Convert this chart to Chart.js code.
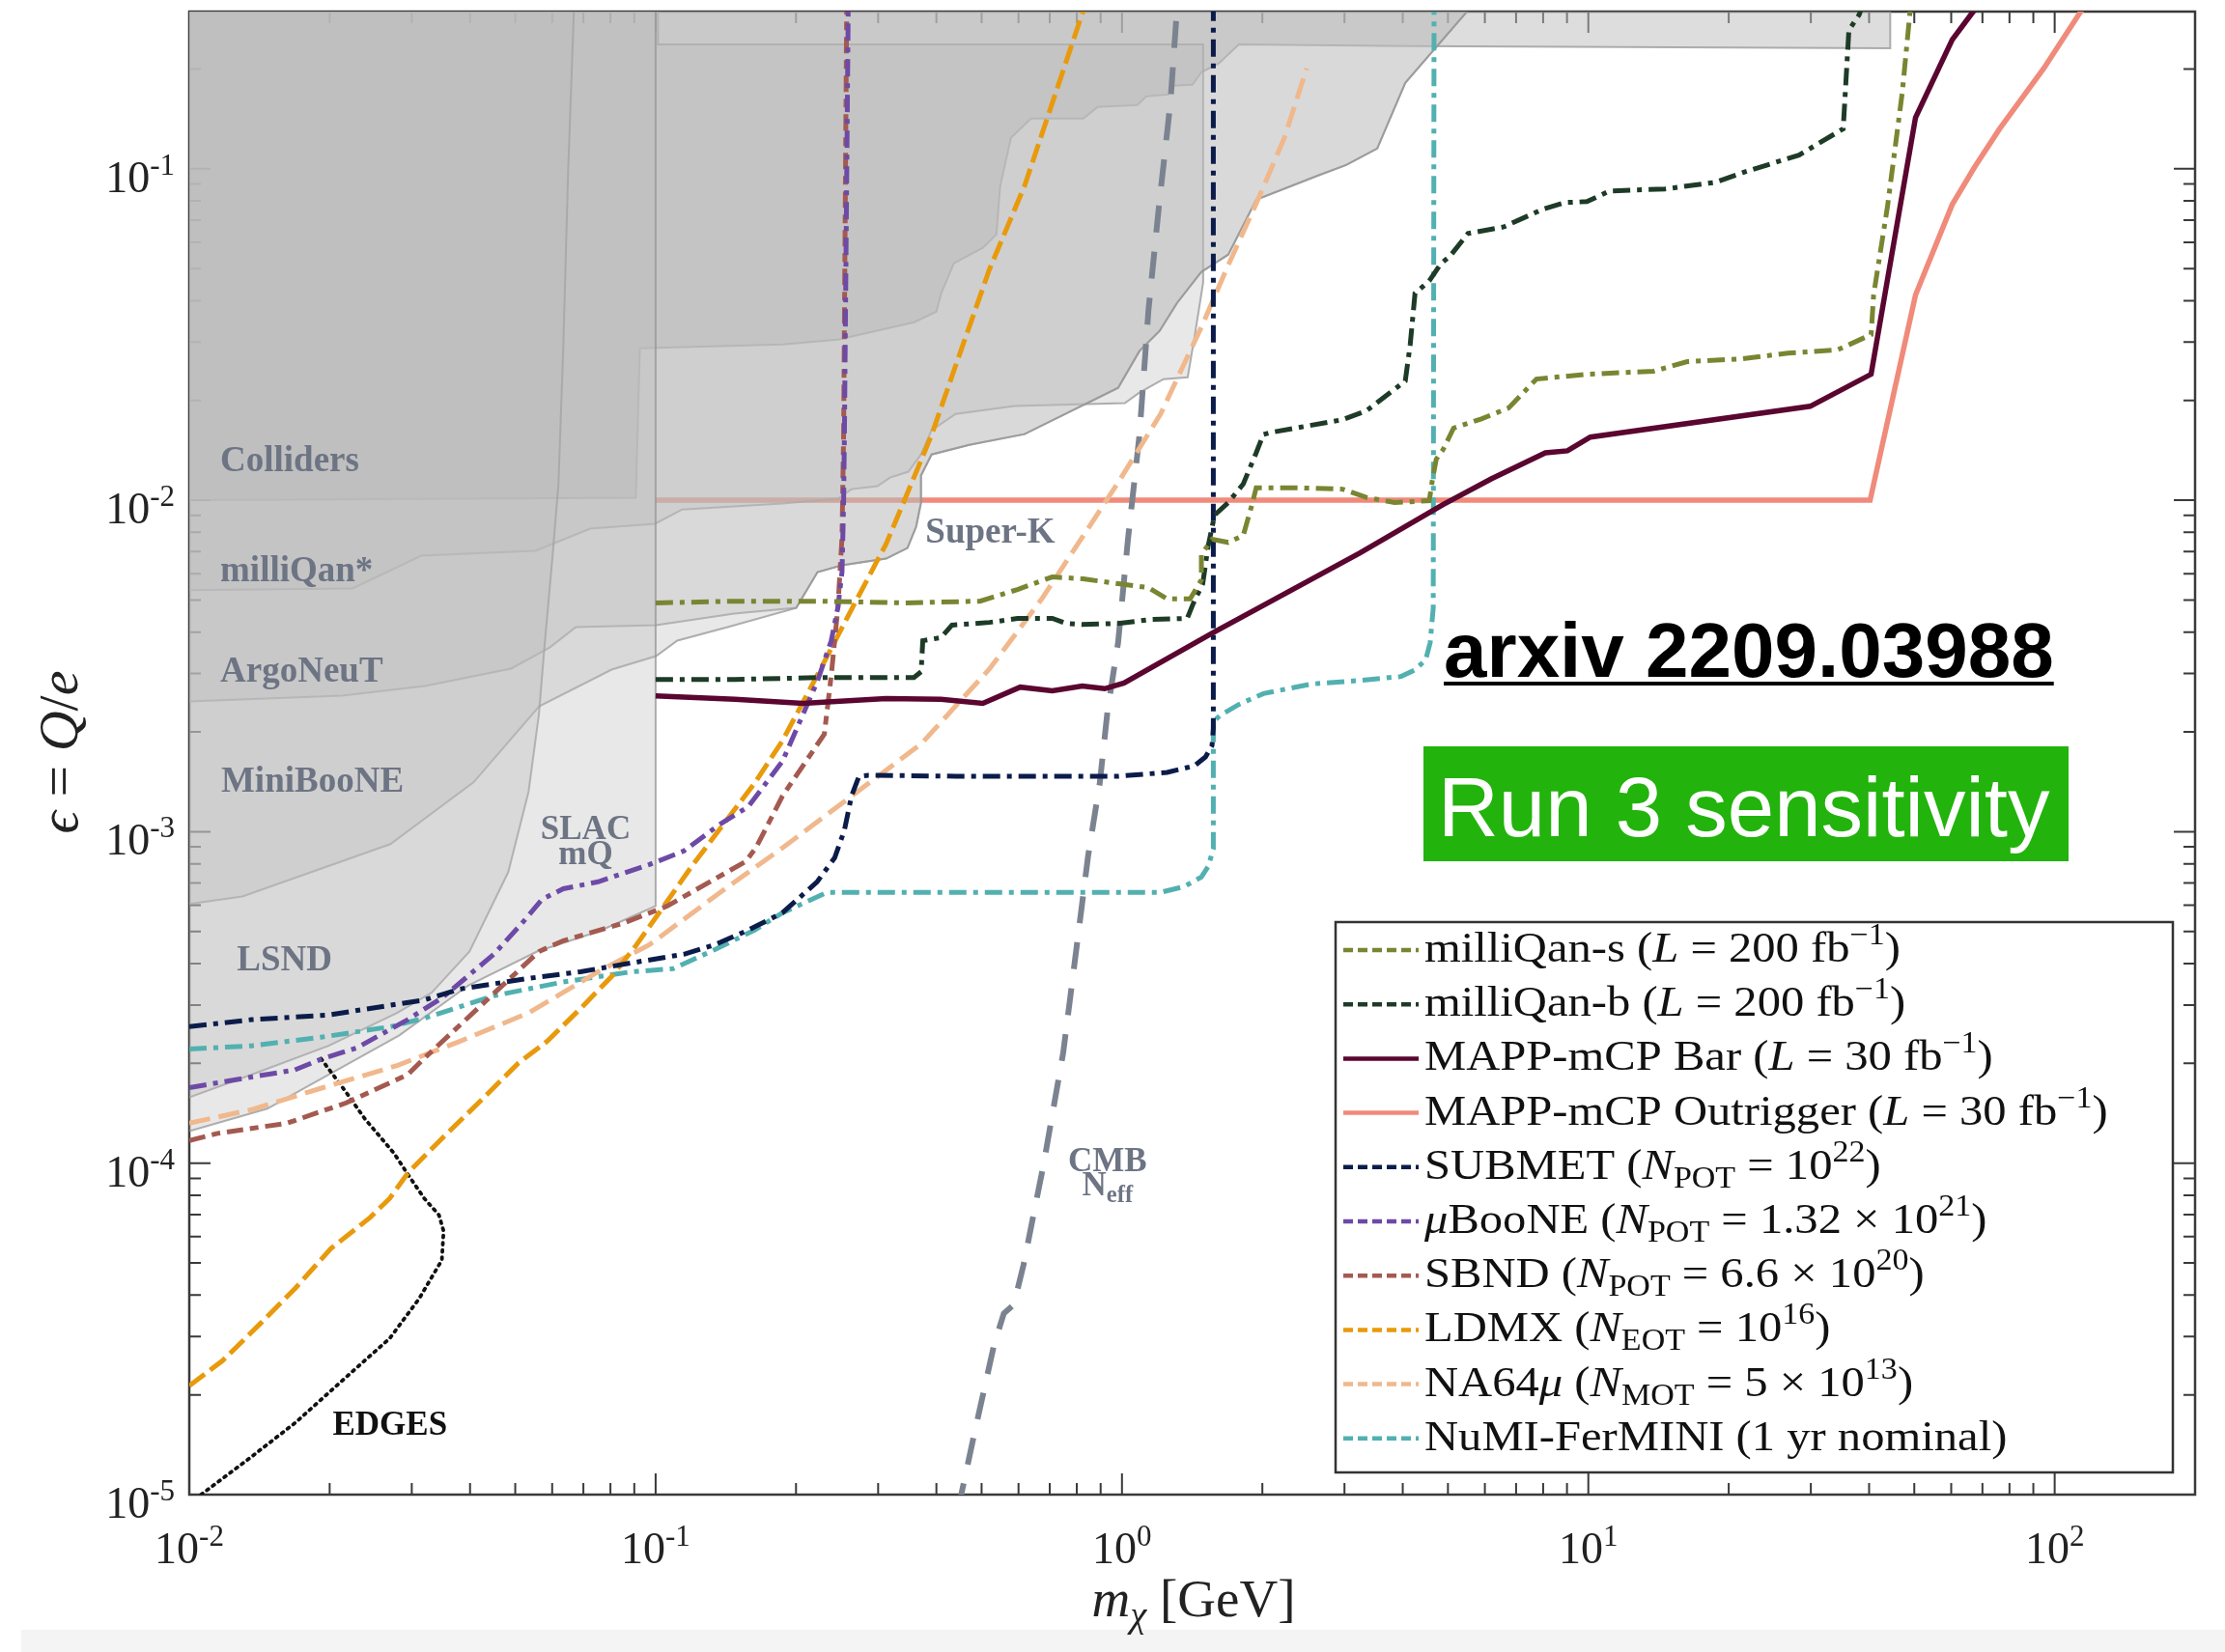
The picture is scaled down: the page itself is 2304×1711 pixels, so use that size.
<!DOCTYPE html>
<html>
<head>
<meta charset="utf-8">
<script src="https://cdn.jsdelivr.net/npm/chart.js@4.4.1/dist/chart.umd.min.js"></script>
<style>
  html, body { margin: 0; padding: 0; background: #fff; }
  canvas { display: block; }
</style>
</head>
<body>
<canvas id="grafik" width="2304" height="1711"></canvas>
<script>
// Axis ranges and ticks
const xMin = 0.01, xMax = 200, yMin = 1e-5, yMax = 0.298;
const xDecades = [0.01, 0.1, 1, 10, 100];
const xExponents = ['-2', '-1', '0', '1', '2'];
const yDecades = [1e-5, 1e-4, 1e-3, 1e-2, 1e-1];
const yExponents = ['-5', '-4', '-3', '-2', '-1'];
const minorSteps = [2, 3, 4, 5, 6, 7, 8, 9];

// Projected sensitivities (m in GeV, epsilon)
const mqsMass = [0.1, 0.148, 0.222, 0.340, 0.496, 0.597, 0.709, 0.826, 0.981, 1.14, 1.25, 1.40, 1.48, 1.48, 1.56, 1.69, 1.82, 1.90, 1.94, 2.38, 2.97, 3.34, 3.84, 4.56, 4.63, 4.72, 4.88, 5.14, 5.90, 6.75, 7.74, 9.93, 13.8, 16.3, 21.4, 26.8, 34.2, 40.4, 40.9, 43.8, 47.1, 48.9, 49.5];
const mqsEps = [4.90e-3, 4.96e-3, 4.96e-3, 4.90e-3, 4.96e-3, 5.38e-3, 5.87e-3, 5.79e-3, 5.60e-3, 5.45e-3, 5.04e-3, 5.04e-3, 5.75e-3, 6.85e-3, 7.62e-3, 7.46e-3, 7.83e-3, 9.70e-3, 0.0109, 0.0109, 0.0108, 0.0102, 9.84e-3, 9.97e-3, 0.0115, 0.0133, 0.0142, 0.0165, 0.0176, 0.0190, 0.0232, 0.0240, 0.0245, 0.0262, 0.0267, 0.0278, 0.0284, 0.0316, 0.0416, 0.0769, 0.169, 0.292, 0.34];

const mqbMass = [0.1, 0.148, 0.230, 0.358, 0.371, 0.374, 0.409, 0.432, 0.520, 0.597, 0.709, 0.759, 0.822, 0.981, 1.16, 1.38, 1.42, 1.49, 1.53, 1.58, 1.69, 1.82, 1.94, 2.01, 2.08, 2.97, 3.34, 4.05, 4.15, 4.25, 4.56, 4.83, 5.04, 5.52, 6.59, 7.98, 8.90, 9.93, 11.1, 14.6, 18.7, 21.4, 28.3, 35.2, 36.2, 38.1, 39.5];
const mqbEps = [2.88e-3, 2.88e-3, 2.92e-3, 2.92e-3, 3.04e-3, 3.77e-3, 3.85e-3, 4.20e-3, 4.28e-3, 4.40e-3, 4.40e-3, 4.25e-3, 4.22e-3, 4.25e-3, 4.37e-3, 4.40e-3, 4.86e-3, 5.60e-3, 7.27e-3, 9.02e-3, 9.84e-3, 0.0112, 0.0139, 0.0158, 0.0160, 0.0175, 0.0186, 0.0229, 0.0295, 0.0421, 0.0459, 0.0518, 0.0543, 0.0638, 0.0668, 0.0755, 0.0791, 0.0796, 0.0857, 0.0869, 0.0910, 0.0973, 0.110, 0.132, 0.262, 0.292, 0.34];

const barMass = [0.1, 0.148, 0.207, 0.312, 0.409, 0.503, 0.605, 0.709, 0.822, 0.918, 1.01, 1.58, 3.24, 4.88, 6.19, 8.09, 9.02, 10.1, 29.9, 40.4, 50.3, 60.3, 66.4, 72];
const barEps = [2.57e-3, 2.51e-3, 2.44e-3, 2.52e-3, 2.51e-3, 2.44e-3, 2.73e-3, 2.66e-3, 2.75e-3, 2.70e-3, 2.81e-3, 4.01e-3, 6.94e-3, 9.70e-3, 0.0116, 0.0139, 0.0141, 0.0155, 0.0192, 0.0240, 0.1426, 0.245, 0.294, 0.34];

const outMass = [0.1, 40.2, 50.3, 60.3, 67.3, 76.2, 94.8, 113, 118];
const outEps = [0.01, 0.01, 0.0416, 0.078, 0.101, 0.132, 0.201, 0.294, 0.32];

const subMass = [0.01, 0.0136, 0.0199, 0.0320, 0.0380, 0.0534, 0.0690, 0.0889, 0.115, 0.134, 0.158, 0.187, 0.222, 0.242, 0.254, 0.263, 0.273, 0.286, 0.440, 0.981, 1.25, 1.43, 1.51, 1.56, 1.57, 1.57];
const subEps = [2.58e-4, 2.71e-4, 2.80e-4, 3.11e-4, 3.35e-4, 3.61e-4, 3.78e-4, 4.02e-4, 4.27e-4, 4.56e-4, 5.05e-4, 5.69e-4, 7.06e-4, 8.34e-4, 1.01e-3, 1.28e-3, 1.47e-3, 1.48e-3, 1.47e-3, 1.47e-3, 1.51e-3, 1.58e-3, 1.68e-3, 1.82e-3, 2.05e-3, 0.4];

const ubMass = [0.01, 0.0136, 0.0168, 0.0192, 0.0229, 0.0294, 0.0349, 0.0450, 0.0516, 0.0571, 0.0634, 0.0753, 0.0970, 0.115, 0.137, 0.158, 0.187, 0.222, 0.238, 0.246, 0.251, 0.253, 0.254, 0.259];
const ubEps = [1.69e-4, 1.82e-4, 1.91e-4, 2.06e-4, 2.23e-4, 2.71e-4, 3.16e-4, 4.27e-4, 5.28e-4, 6.25e-4, 6.73e-4, 7.06e-4, 7.96e-4, 8.75e-4, 1.05e-3, 1.19e-3, 1.63e-3, 2.83e-3, 3.77e-3, 4.76e-3, 6.07e-3, 9.84e-3, 0.0158, 0.34];

const sbMass = [0.01, 0.0115, 0.0162, 0.0217, 0.0294, 0.0320, 0.0562, 0.0634, 0.0847, 0.106, 0.141, 0.156, 0.164, 0.187, 0.230, 0.238, 0.246, 0.251, 0.253, 0.257];
const sbEps = [1.17e-4, 1.23e-4, 1.32e-4, 1.52e-4, 1.85e-4, 2.08e-4, 4.35e-4, 4.69e-4, 5.28e-4, 5.97e-4, 7.50e-4, 8.13e-4, 8.93e-4, 1.28e-3, 1.97e-3, 2.96e-3, 4.76e-3, 7.73e-3, 0.0158, 0.34];

const ldMass = [0.01, 0.0118, 0.0142, 0.0169, 0.0201, 0.0244, 0.0269, 0.0295, 0.0351, 0.0417, 0.0507, 0.0585, 0.0694, 0.0805, 0.0907, 0.100, 0.119, 0.141, 0.163, 0.187, 0.222, 0.263, 0.312, 0.340, 0.391, 0.440, 0.520, 0.618, 0.709, 0.822, 0.86];
const ldEps = [2.13e-5, 2.54e-5, 3.28e-5, 4.20e-5, 5.52e-5, 6.85e-5, 7.83e-5, 9.38e-5, 1.20e-4, 1.52e-4, 2.00e-4, 2.33e-4, 2.95e-4, 3.66e-4, 4.53e-4, 5.50e-4, 7.80e-4, 1.07e-3, 1.40e-3, 1.88e-3, 2.96e-3, 4.68e-3, 7.38e-3, 9.84e-3, 0.0158, 0.0255, 0.0498, 0.0887, 0.158, 0.294, 0.34];

const naMass = [0.01, 0.0136, 0.0199, 0.0279, 0.0380, 0.0534, 0.0753, 0.0970, 0.141, 0.187, 0.263, 0.371, 0.520, 0.673, 0.822, 0.981, 1.21, 1.48, 1.69, 1.94, 2.23, 2.49];
const naEps = [1.32e-4, 1.45e-4, 1.71e-4, 1.97e-4, 2.33e-4, 2.84e-4, 3.78e-4, 4.56e-4, 6.73e-4, 8.93e-4, 1.28e-3, 1.84e-3, 3.10e-3, 5.04e-3, 7.73e-3, 0.0113, 0.0182, 0.0333, 0.0512, 0.0785, 0.124, 0.201];

const numiMass = [0.01, 0.0136, 0.0192, 0.0270, 0.0320, 0.0450, 0.0634, 0.0889, 0.109, 0.134, 0.163, 0.187, 0.233, 0.312, 1.21, 1.36, 1.48, 1.53, 1.57, 1.57, 1.63, 1.78, 2.01, 2.55, 3.24, 3.97, 4.25, 4.48, 4.58, 4.65, 4.67];
const numiEps = [2.21e-4, 2.26e-4, 2.40e-4, 2.58e-4, 2.74e-4, 3.20e-4, 3.52e-4, 3.78e-4, 3.86e-4, 4.41e-4, 5.05e-4, 5.69e-4, 6.56e-4, 6.56e-4, 6.56e-4, 6.83e-4, 7.30e-4, 7.85e-4, 8.87e-4, 2.15e-3, 2.25e-3, 2.42e-3, 2.61e-3, 2.79e-3, 2.86e-3, 2.94e-3, 3.08e-3, 3.30e-3, 3.72e-3, 4.73e-3, 0.4];

const cmbMass = [0.445, 0.482, 0.532, 0.558, 0.586, 0.615, 0.679, 0.748, 0.803, 0.846, 0.896, 0.931, 0.981, 1.03, 1.09, 1.14, 1.20, 1.27, 1.31, 1.32];
const cmbEps = [9.0e-6, 1.52e-5, 2.84e-5, 3.52e-5, 3.74e-5, 4.93e-5, 9.91e-5, 2.15e-4, 4.72e-4, 8.45e-4, 1.40e-3, 2.31e-3, 3.72e-3, 7.62e-3, 0.0157, 0.0376, 0.0769, 0.158, 0.294, 0.34];

const edMass = [0.0103, 0.0132, 0.0169, 0.0216, 0.0269, 0.0311, 0.0348, 0.0351, 0.0343, 0.0319, 0.0295, 0.0275, 0.0238, 0.0216, 0.0191];
const edEps = [9.7e-6, 1.26e-5, 1.65e-5, 2.25e-5, 2.96e-5, 3.90e-5, 5.10e-5, 6.24e-5, 6.98e-5, 7.83e-5, 9.20e-5, 1.07e-4, 1.36e-4, 1.65e-4, 2.08e-4];

// Excluded regions (closed outlines, closed above the plot)
const colMass = [0.01, 0.0907, 0.0925, 0.187, 0.246, 0.3585, 0.400, 0.4096, 0.436, 0.503, 0.538, 0.548, 0.578, 0.638, 0.826, 0.887, 1.079, 1.127, 1.257, 1.288, 1.416, 1.479, 1.611, 1.781, 4.107, 44.4, 44.4, 0.01];
const colEps = [0.0100, 0.01017, 0.02874, 0.02951, 0.03052, 0.03444, 0.03707, 0.0421, 0.05185, 0.05772, 0.06339, 0.08863, 0.124, 0.1417, 0.1417, 0.1536, 0.1556, 0.1653, 0.1675, 0.178, 0.1792, 0.1955, 0.2076, 0.2373, 0.2343, 0.2311, 1, 1];

const mqMass = [0.01, 0.02239, 0.03144, 0.05521, 0.07244, 0.0997, 0.114, 0.1873, 0.246, 0.263, 0.299, 0.3182, 0.3483, 0.3707, 0.3906, 0.440, 0.5888, 1.0144, 1.0897, 1.2278, 1.3833, 1.4303, 1.493, 1.493, 0.1012, 0.1012, 0.01];
const mqEps = [5.35e-3, 5.42e-3, 6.80e-3, 7.04e-3, 8.21e-3, 8.49e-3, 9.38e-3, 9.77e-3, 0.0101, 0.0108, 0.01102, 0.01171, 0.01219, 0.01374, 0.01626, 0.01822, 0.01923, 0.01962, 0.02112, 0.02319, 0.0235, 0.03094, 0.04535, 0.2373, 0.2373, 1, 1];

const anHeadMass = [0.01, 0.02126, 0.03203, 0.04899, 0.05929, 0.06745, 0.1002, 0.1475];
const anHeadEps = [2.47e-3, 2.574e-3, 2.752e-3, 3.105e-3, 3.597e-3, 4.142e-3, 4.198e-3, 4.548e-3];
const mbHeadMass = [0.01, 0.0130, 0.02699, 0.04068, 0.05627, 0.08048, 0.1002, 0.1113, 0.1427];
const mbHeadEps = [6.05e-4, 6.38e-4, 9.17e-4, 1.408e-3, 2.39e-3, 3.084e-3, 3.388e-3, 3.771e-3, 4.142e-3];
const skMass = [0.2002, 0.2224, 0.2506, 0.3121, 0.3467, 0.3619, 0.3707, 0.3707, 0.3906, 0.4705, 0.618, 0.981, 1.0897, 1.2043, 1.3126, 1.479, 1.69, 1.941, 2.634, 3.025, 3.526, 4.05, 5.495, 5.6, 0.01];
const skEps = [4.734e-3, 6.07e-3, 6.36e-3, 6.666e-3, 7.177e-3, 8.318e-3, 9.833e-3, 0.01187, 0.01374, 0.0147, 0.01583, 0.02183, 0.02818, 0.03243, 0.03938, 0.04881, 0.05508, 0.08066, 0.09541, 0.1027, 0.1151, 0.1816, 0.2981, 1, 1];

const slacMass = [0.01, 0.0147, 0.0282, 0.0397, 0.0557, 0.0756, 0.1, 0.1, 0.01];
const slacEps = [1.25e-4, 1.46e-4, 2.43e-4, 3.44e-4, 4.35e-4, 5.01e-4, 5.97e-4, 1, 1];

const lsndMass = [0.01, 0.0136, 0.0199, 0.0279, 0.0331, 0.0399, 0.0483, 0.0534, 0.0562, 0.0577, 0.0602, 0.0619, 0.0634, 0.0649, 0.0668, 0.068, 0.01];
const lsndEps = [1.58e-4, 1.85e-4, 2.26e-4, 2.84e-4, 3.27e-4, 4.35e-4, 7.55e-4, 1.32e-3, 2.26e-3, 3.55e-3, 6.94e-3, 0.0112, 0.0293, 0.0967, 0.30, 1, 1];

// Region names
const regionNames = ['Colliders', 'milliQan*', 'ArgoNeuT', 'MiniBooNE', 'LSND', 'Super-K'];
const regionNameMass = [0.01165, 0.01165, 0.01165, 0.0117, 0.01265, 0.379];
const regionNameEps = [0.01227, 5.71e-3, 2.83e-3, 1.32e-3, 3.81e-4, 7.46e-3];

const SERIF = '"Liberation Serif", "Times New Roman", serif';
const SANS = '"Liberation Sans", Arial, sans-serif';
const REGION_TEXT = '#6d7484';

function pts(xs, ys) {
  return xs.map((x, i) => ({ x, y: ys[i] }));
}

function garis(label, xs, ys, color, dash, width, order, legend) {
  return {
    label, legend,
    data: pts(xs, ys),
    borderColor: color,
    borderWidth: width,
    borderDash: dash,
    pointRadius: 0,
    fill: false,
    tension: 0,
    order
  };
}

function wilayah(label, xs, ys, alpha) {
  return {
    label,
    data: pts(xs, ys),
    borderColor: 'rgba(150,150,150,0.75)',
    borderWidth: 2,
    backgroundColor: 'rgba(188,188,188,' + alpha + ')',
    fill: 'shape',
    pointRadius: 0,
    tension: 0,
    order: 20
  };
}

const dashDot = [18, 7, 5, 7];

const datasets = [
  garis('milliQan-s (L = 200 fb⁻¹)', mqsMass, mqsEps, '#7a8532', dashDot, 5, 1,
    [['milliQan-s (', ''], ['L', 'i'], [' = 200 fb', ''], ['−1', 'sup'], [')', '']]),
  garis('milliQan-b (L = 200 fb⁻¹)', mqbMass, mqbEps, '#1d3b27', dashDot, 5, 2,
    [['milliQan-b (', ''], ['L', 'i'], [' = 200 fb', ''], ['−1', 'sup'], [')', '']]),
  garis('MAPP-mCP Bar (L = 30 fb⁻¹)', barMass, barEps, '#5a0630', [], 5.5, 3,
    [['MAPP-mCP Bar (', ''], ['L', 'i'], [' = 30 fb', ''], ['−1', 'sup'], [')', '']]),
  garis('MAPP-mCP Outrigger (L = 30 fb⁻¹)', outMass, outEps, '#f08a7a', [], 5.5, 30,
    [['MAPP-mCP Outrigger (', ''], ['L', 'i'], [' = 30 fb', ''], ['−1', 'sup'], [')', '']]),
  garis('SUBMET (N_POT = 10²²)', subMass, subEps, '#0b1c4a', dashDot, 5, 4,
    [['SUBMET (', ''], ['N', 'i'], ['POT', 'sub'], [' = 10', ''], ['22', 'sup'], [')', '']]),
  garis('μBooNE (N_POT = 1.32 × 10²¹)', ubMass, ubEps, '#6d4aa6', dashDot, 5, 5,
    [['μ', 'i'], ['BooNE (', ''], ['N', 'i'], ['POT', 'sub'], [' = 1.32 × 10', ''], ['21', 'sup'], [')', '']]),
  garis('SBND (N_POT = 6.6 × 10²⁰)', sbMass, sbEps, '#a45a50', [17, 7, 9, 7], 5, 6,
    [['SBND (', ''], ['N', 'i'], ['POT', 'sub'], [' = 6.6 × 10', ''], ['20', 'sup'], [')', '']]),
  garis('LDMX (N_EOT = 10¹⁶)', ldMass, ldEps, '#e89a0c', [20, 7], 5, 7,
    [['LDMX (', ''], ['N', 'i'], ['EOT', 'sub'], [' = 10', ''], ['16', 'sup'], [')', '']]),
  garis('NA64μ (N_MOT = 5 × 10¹³)', naMass, naEps, '#f0b88c', [22, 9], 5, 8,
    [['NA64', ''], ['μ', 'i'], [' (', ''], ['N', 'i'], ['MOT', 'sub'], [' = 5 × 10', ''], ['13', 'sup'], [')', '']]),
  garis('NuMI-FerMINI (1 yr nominal)', numiMass, numiEps, '#52b0b0', dashDot, 5, 9,
    [['NuMI-FerMINI (1 yr nominal)', '']]),
  garis('CMB Neff', cmbMass, cmbEps, '#7c8390', [28, 20], 6, 10, null),
  Object.assign(garis('EDGES', edMass, edEps, '#111111', [2, 5.5], 3.8, 11, null), { borderCapStyle: 'round' }),
  wilayah('SLAC mQ', slacMass, slacEps, 0.34),
  wilayah('LSND', lsndMass, lsndEps, 0.34),
  wilayah('MiniBooNE', mbHeadMass.concat(skMass), mbHeadEps.concat(skEps), 0.34),
  wilayah('ArgoNeuT', anHeadMass.concat(skMass), anHeadEps.concat(skEps), 0.34),
  wilayah('milliQan*', mqMass, mqEps, 0.34),
  wilayah('Colliders', colMass, colEps, 0.5)
];

// Rich text helpers (italic, super- and subscripts)
function fontFor(st, size, family, bold) {
  const small = st === 'sup' || st === 'sub' || st === 'isub';
  const italic = st === 'i' || st === 'isub';
  return (italic ? 'italic ' : '') + (bold ? 'bold ' : '') + (small ? size * 0.7 : size) + 'px ' + family;
}
function offsetFor(st, size) {
  if (st === 'sup') return -size * 0.4;
  if (st === 'sub' || st === 'isub') return size * 0.2;
  return 0;
}
function ukurRich(ctx, parts, size, family, bold) {
  let w = 0;
  for (const [t, st] of parts) { ctx.font = fontFor(st, size, family, bold); w += ctx.measureText(t).width; }
  return w;
}
function tulisRich(ctx, parts, x, y, size, family, align, sx, bold) {
  ctx.save();
  ctx.translate(x, y);
  ctx.scale(sx, 1);
  ctx.textAlign = 'left';
  ctx.textBaseline = 'alphabetic';
  let cx = align === 'center' ? -ukurRich(ctx, parts, size, family, bold) / 2 : 0;
  for (const [t, st] of parts) {
    ctx.font = fontFor(st, size, family, bold);
    ctx.fillText(t, cx, offsetFor(st, size));
    cx += ctx.measureText(t).width;
  }
  ctx.restore();
}

const hiasan = {
  id: 'hiasan',
  beforeDraw(chart) {
    const ctx = chart.ctx;
    ctx.save();
    ctx.fillStyle = '#ffffff';
    ctx.fillRect(0, 0, chart.width, chart.height);
    ctx.fillStyle = '#f4f4f4';
    ctx.fillRect(22, 1688, chart.width - 22, chart.height - 1688);
    ctx.restore();
  },
  beforeDatasetsDraw(chart) {
    // Frame and inward ticks on all four sides (drawn under the shaded regions)
    const { ctx, chartArea: a, scales: { x, y } } = chart;
    ctx.save();
    ctx.strokeStyle = '#3a3a3a';
    ctx.lineWidth = 2;
    const xTick = (v, len) => {
      const px = x.getPixelForValue(v);
      ctx.beginPath();
      ctx.moveTo(px, a.bottom); ctx.lineTo(px, a.bottom - len);
      ctx.moveTo(px, a.top); ctx.lineTo(px, a.top + len);
      ctx.stroke();
    };
    const yTick = (v, len) => {
      const py = y.getPixelForValue(v);
      ctx.beginPath();
      ctx.moveTo(a.left, py); ctx.lineTo(a.left + len, py);
      ctx.moveTo(a.right, py); ctx.lineTo(a.right - len, py);
      ctx.stroke();
    };
    xDecades.forEach(d => {
      xTick(d, 22);
      minorSteps.forEach(m => { if (d * m < xMax) xTick(d * m, 12); });
    });
    yDecades.forEach(d => {
      yTick(d, 22);
      minorSteps.forEach(m => { if (d * m < yMax) yTick(d * m, 12); });
    });
    ctx.lineWidth = 2.5;
    ctx.strokeRect(a.left, a.top, a.right - a.left, a.bottom - a.top);
    ctx.restore();
  },
  afterDatasetsDraw(chart) {
    const { ctx, scales: { x, y } } = chart;
    ctx.save();
    ctx.fillStyle = REGION_TEXT;
    ctx.textBaseline = 'alphabetic';
    ctx.font = 'bold 37px ' + SERIF;
    ctx.textAlign = 'left';
    regionNames.forEach((t, i) => {
      ctx.fillText(t, x.getPixelForValue(regionNameMass[i]), y.getPixelForValue(regionNameEps[i]));
    });
    ctx.font = 'bold 35px ' + SERIF;
    ctx.textAlign = 'center';
    ctx.fillText('SLAC', x.getPixelForValue(0.0708), y.getPixelForValue(9.48e-4));
    ctx.fillText('mQ', x.getPixelForValue(0.0708), y.getPixelForValue(7.96e-4));
    ctx.fillText('CMB', x.getPixelForValue(0.931), y.getPixelForValue(9.43e-5));
    tulisRich(ctx, [['N', ''], ['eff', 'sub']], x.getPixelForValue(0.931), y.getPixelForValue(7.98e-5), 35, SERIF, 'center', 1, true);
    ctx.fillStyle = '#111111';
    ctx.textAlign = 'left';
    ctx.font = 'bold 35px ' + SERIF;
    ctx.fillText('EDGES', x.getPixelForValue(0.0203), y.getPixelForValue(1.52e-5));

    // arxiv reference
    ctx.fillStyle = '#000000';
    ctx.font = 'bold 80px ' + SANS;
    const arx = 'arxiv 2209.03988';
    ctx.fillText(arx, 1495, 701);
    const w = ctx.measureText(arx).width;
    ctx.fillRect(1495, 706, w, 4);

    // Run 3 badge
    ctx.fillStyle = '#22b30c';
    ctx.fillRect(1474, 773, 668, 119);
    ctx.fillStyle = '#ffffff';
    ctx.font = '87px ' + SANS;
    ctx.fillText('Run 3 sensitivity', 1489, 866);

    // Legend
    const lx = 1383, ly = 955, lw = 867, lh = 570;
    ctx.fillStyle = '#ffffff';
    ctx.fillRect(lx, ly, lw, lh);
    ctx.strokeStyle = '#333333';
    ctx.lineWidth = 2.5;
    ctx.strokeRect(lx, ly, lw, lh);
    const rows = chart.data.datasets.filter(d => d.legend);
    rows.forEach((d, i) => {
      const base = 996 + i * 56.2;
      ctx.save();
      ctx.strokeStyle = d.borderColor;
      ctx.lineWidth = 4.5;
      ctx.setLineDash(d.borderDash.length ? [10, 5] : []);
      ctx.beginPath();
      ctx.moveTo(1391, base - 12);
      ctx.lineTo(1469, base - 12);
      ctx.stroke();
      ctx.restore();
      ctx.fillStyle = '#111111';
      tulisRich(ctx, d.legend, 1475, base, 45, SERIF, 'left', 1.08, false);
    });
    ctx.restore();
  },
  afterDraw(chart) {
    const { ctx, chartArea: a, scales: { x, y } } = chart;
    ctx.save();
    ctx.fillStyle = '#222222';
    ctx.textAlign = 'left';
    ctx.textBaseline = 'alphabetic';
    const big = '46px ' + SERIF, small = '31px ' + SERIF;
    // x tick labels
    xDecades.forEach((d, i) => {
      const px = x.getPixelForValue(d);
      ctx.font = big;
      const w1 = ctx.measureText('10').width;
      ctx.font = small;
      const w2 = ctx.measureText(xExponents[i]).width;
      const start = px - (w1 + w2) / 2;
      ctx.font = big;
      ctx.fillText('10', start, 1619);
      ctx.font = small;
      ctx.fillText(xExponents[i], start + w1, 1601);
    });
    // y tick labels
    yDecades.forEach((d, i) => {
      const py = y.getPixelForValue(d);
      ctx.font = small;
      const w2 = ctx.measureText(yExponents[i]).width;
      ctx.font = big;
      const w1 = ctx.measureText('10').width;
      const end = a.left - 15;
      ctx.fillText('10', end - w2 - w1, py + 24);
      ctx.font = small;
      ctx.fillText(yExponents[i], end - w2, py + 6);
    });
    // axis titles
    tulisRich(ctx, [['m', 'i'], ['χ', 'isub'], [' [GeV]', '']], 1236, 1674, 55, SERIF, 'center', 1, false);
    ctx.save();
    ctx.translate(80, 779);
    ctx.rotate(-Math.PI / 2);
    tulisRich(ctx, [['ϵ', 'i'], [' = ', ''], ['Q', 'i'], ['/', ''], ['e', 'i']], 0, 0, 58, SERIF, 'center', 1, false);
    ctx.restore();
    ctx.restore();
  }
};

new Chart(document.getElementById('grafik').getContext('2d'), {
  type: 'line',
  data: { datasets },
  options: {
    responsive: false,
    devicePixelRatio: 1,
    animation: false,
    layout: { padding: { top: 12, right: 31, left: 0, bottom: 0 } },
    plugins: {
      legend: { display: false },
      tooltip: { enabled: false }
    },
    scales: {
      x: {
        type: 'logarithmic',
        min: xMin, max: xMax,
        grid: { display: false },
        border: { display: false },
        ticks: { display: false },
        afterBuildTicks: s => { s.min = xMin; s.max = xMax; s.ticks = xDecades.map(v => ({ value: v })); },
        afterFit: s => { s.height = 163; }
      },
      y: {
        type: 'logarithmic',
        min: yMin, max: yMax,
        grid: { display: false },
        border: { display: false },
        ticks: { display: false },
        afterBuildTicks: s => { s.min = yMin; s.max = yMax; s.ticks = yDecades.map(v => ({ value: v })); },
        afterFit: s => { s.width = 196; }
      }
    }
  },
  plugins: [hiasan]
});
</script>
</body>
</html>
